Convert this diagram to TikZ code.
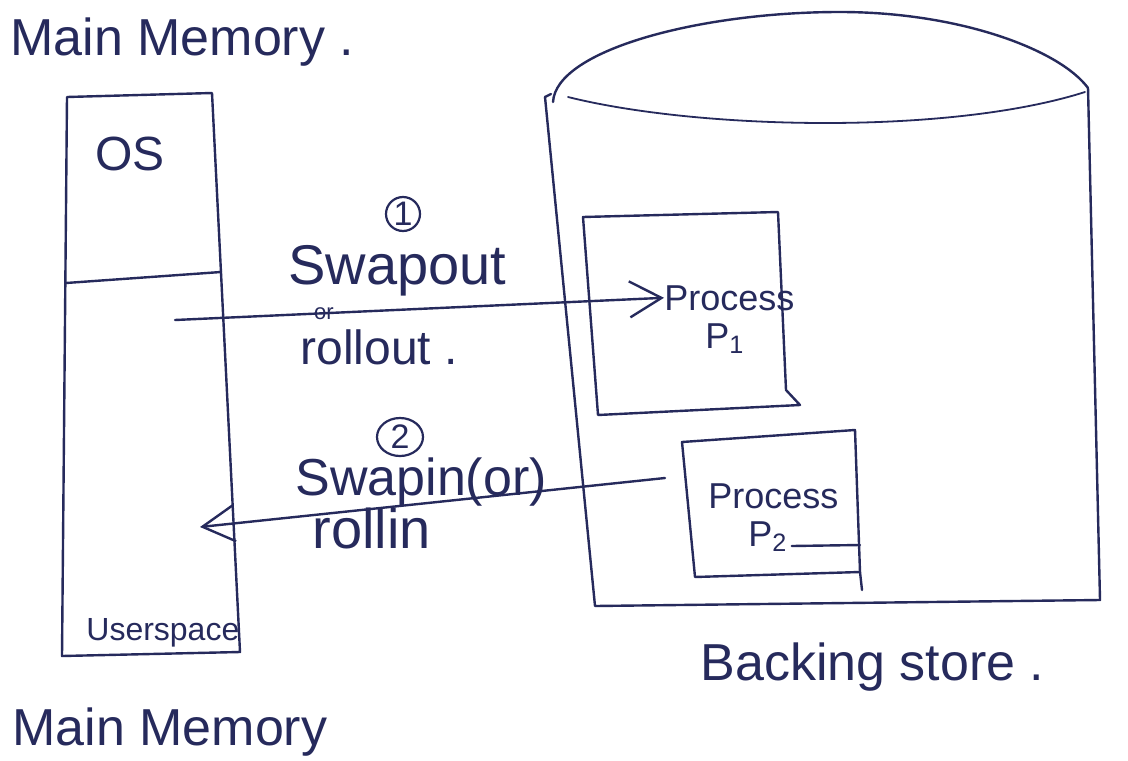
\documentclass[tikz,border=0pt]{standalone}
\usepackage{fontspec}
\setmainfont{Liberation Sans}
\usetikzlibrary{arrows.meta,shapes.geometric}
\definecolor{ink}{HTML}{262A5C}
\tikzset{
  pen/.style={draw=ink, line width=1.2pt, line cap=round, line join=round},
  thin pen/.style={draw=ink, line width=0.9pt, line cap=round},
  txt/.style={text=ink, inner sep=0pt},
  big/.style={txt, font=\fontsize{26}{30}\selectfont},
  mid/.style={txt, font=\fontsize{18}{21}\selectfont},
  num/.style={draw=ink, line width=1.1pt, text=ink, inner sep=0pt,
              font=\fontsize{17}{19}\selectfont},
  swap/.style={pen, -{Straight Barb[length=16pt,width=18pt,line width=1.2pt]}},
}
\begin{document}
\begin{tikzpicture}[x=0.5pt,y=-0.5pt]
\useasboundingbox[fill=white] (0,0) rectangle (1128,760);

% ---------- main memory column ----------
\coordinate (mtl) at (67,97);
\coordinate (mtr) at (212,93);
\coordinate (mbr) at (240,652);
\coordinate (mbl) at (62,656);
\draw[pen] (mtl) -- (mtr) -- (mbr) -- (mbl) -- cycle;
\coordinate (divl) at (66,283);
\coordinate (divr) at (221,272);
\draw[pen] (divl) -- (divr);

\node[big, anchor=base west] (title) at (10,55) {Main Memory .};
\node[big, font=\fontsize{24}{28}\selectfont, anchor=base west] (os) at (95,170) {OS};
\node[txt, font=\fontsize{16}{19}\selectfont, anchor=base west] (user) at (86,640) {Userspace};
\node[big, anchor=base west] (mmlabel) at (12,745) {Main Memory};

% ---------- backing store cylinder ----------
\coordinate (cl) at (545,97);
\coordinate (cr) at (1088,88);
\coordinate (cbl) at (595,606);
\coordinate (cbr) at (1100,600);
\draw[pen] (553,102) .. controls (556,50) and (700,12) .. (840,12)
                   .. controls (960,12) and (1060,50) .. (cr);
\draw[thin pen] (568,97) .. controls (700,130) and (950,135) .. (1085,92);
\draw[pen] (cl) -- (cbl) -- (cbr) -- (cr);
\draw[pen] (cl) -- (551,94);

\node[big, anchor=base west] (bstore) at (700,680) {Backing store .};

% ---------- process P1 ----------
\draw[pen] (583,217) -- (778,212) -- (786,390) -- (800,405) -- (598,415) -- cycle;
\node[mid, anchor=base west] (p1a) at (664,310) {Process};
\node[mid, anchor=base west] (p1b) at (705,348) {P\textsubscript{1}};

% ---------- process P2 ----------
\draw[pen] (682,442) -- (855,430) -- (860,572) -- (695,577) -- cycle;
\draw[pen] (860,572) -- (862,590);
\node[mid, anchor=base west] (p2a) at (708,508) {Process};
\node[mid, anchor=base west] (p2b) at (748,546) {P\textsubscript{2}};
\draw[pen] (p2b.base east) ++(4,0) coordinate (ul) -- (860,545);

% ---------- swap out ----------
\coordinate (outstart) at (175,320);
\draw[swap] (outstart) -- (p1a.west);
\node[num, circle, minimum size=17pt] (n1) at (403,214) {1};
\node[big, font=\fontsize{28}{32}\selectfont, anchor=base west] (swapout) at (288,284) {Swapout};
\node[txt, font=\fontsize{11}{13}\selectfont] (or1) at (324,314) {or};
\node[big, font=\fontsize{24}{28}\selectfont, anchor=base west] (rollout) at (300,364) {rollout .};

% ---------- swap in ----------
\coordinate (instart) at (665,478);
\coordinate (inend) at (200,527);
\draw[swap] (instart) -- (inend);
\node[num, ellipse, minimum width=23pt, minimum height=19pt] (n2) at (400,437) {2};
\node[big, anchor=base west] (swapin) at (295,495) {Swapin(or)};
\node[big, font=\fontsize{28}{32}\selectfont, anchor=base west] (rollin) at (312,548) {rollin};
\end{tikzpicture}
\end{document}
